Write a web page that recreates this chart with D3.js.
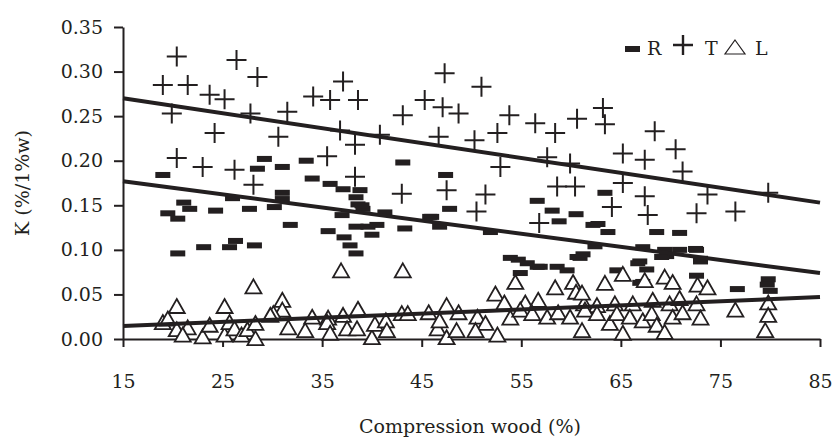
<!DOCTYPE html>
<html>
<head>
<meta charset="utf-8">
<script src="https://cdn.jsdelivr.net/npm/d3@7"></script>
<style>
  body { margin: 0; background: #fff; }
  text { font-family: "DejaVu Serif", serif; fill: #231f20; }
</style>
</head>
<body>
<div id="chart"></div>
<script>
// Values: [compression wood %, K]
var rData = [
  [19.0,0.184],[21.1,0.153],[21.7,0.146],[19.5,0.141],[20.5,0.135],[24.3,0.144],[26.0,0.158],
  [27.7,0.146],[28.5,0.191],[29.2,0.202],[31.0,0.193],[31.0,0.164],[31.0,0.157],[30.2,0.148],
  [33.4,0.200],[34.0,0.180],[35.8,0.174],[37.1,0.168],[38.8,0.167],[38.4,0.159],[38.6,0.151],
  [39.1,0.146],[37.0,0.139],[31.8,0.128],[35.6,0.121],[37.2,0.114],[38.4,0.126],[39.6,0.126],
  [37.8,0.105],[38.4,0.096],[26.3,0.110],[25.7,0.103],[23.1,0.103],[28.2,0.105],[20.5,0.096],
  [43.1,0.198],[47.4,0.184],[47.8,0.146],[39.0,0.150],[41.3,0.142],[45.8,0.137],[40.5,0.128],
  [43.3,0.124],[46.8,0.126],[40.0,0.117],[54.7,0.089],[56.6,0.081],[58.6,0.081],[60.9,0.091],
  [56.6,0.155],[58.1,0.144],[58.8,0.132],[60.5,0.140],[62.2,0.128],[51.9,0.120],[46.0,0.137],
  [54.9,0.074],[60.6,0.092],[61.2,0.095],[64.6,0.077],[67.2,0.103],[66.9,0.087],[69.6,0.093],
  [70.9,0.100],[72.6,0.100],[73.0,0.087],[72.6,0.071],[67.2,0.064],[76.7,0.056],[79.8,0.067],
  [79.7,0.061],[80.0,0.054],[68.6,0.120],[70.9,0.119],[63.4,0.164],[62.7,0.129],[63.7,0.120],
  [62.4,0.104],[69.4,0.100],[72.5,0.101],[69.1,0.092],[73.0,0.090],[66.7,0.085],[67.6,0.078],
  [53.9,0.091],[55.6,0.085],[56.9,0.081],[59.6,0.077],[66.9,0.063]
];

var tData = [
  [20.4,0.317],[19.0,0.285],[21.5,0.285],[26.4,0.313],[28.5,0.294],[19.9,0.253],[23.7,0.274],
  [25.2,0.269],[27.8,0.253],[24.2,0.231],[20.4,0.203],[23.0,0.193],[26.2,0.190],[28.1,0.173],
  [30.6,0.227],[31.5,0.255],[34.1,0.272],[35.8,0.268],[37.1,0.289],[38.6,0.268],[36.8,0.234],
  [38.3,0.218],[35.5,0.205],[38.3,0.182],[40.8,0.229],[43.1,0.251],[43.0,0.163],[47.3,0.298],
  [51.0,0.283],[45.3,0.268],[47.1,0.260],[48.7,0.253],[53.8,0.251],[56.4,0.242],[58.4,0.231],
  [60.6,0.247],[63.2,0.259],[63.4,0.241],[68.4,0.233],[46.7,0.227],[50.3,0.223],[52.6,0.231],
  [57.6,0.204],[59.9,0.197],[65.2,0.208],[67.4,0.201],[70.5,0.213],[71.2,0.188],[52.9,0.193],
  [73.7,0.162],[79.8,0.164],[76.5,0.143],[47.5,0.167],[51.4,0.162],[58.6,0.171],[60.4,0.171],
  [65.2,0.175],[67.4,0.160],[64.1,0.148],[72.6,0.141],[50.5,0.143],[67.7,0.139],[56.8,0.130]
];

var lData = [
  [20.4,0.037],[25.2,0.037],[28.1,0.059],[36.9,0.077],[43.1,0.077],[31.0,0.044],[31.0,0.033],
  [30.1,0.029],[38.6,0.034],[37.1,0.027],[34.0,0.025],[35.6,0.024],[43.0,0.029],[43.6,0.029],
  [45.7,0.030],[47.5,0.038],[48.7,0.030],[19.0,0.019],[19.5,0.023],[20.4,0.011],[21.5,0.013],
  [21.0,0.005],[23.0,0.003],[23.7,0.016],[25.2,0.005],[25.7,0.019],[26.2,0.012],[26.9,0.005],
  [27.5,0.011],[28.3,0.018],[28.3,0.001],[29.8,0.027],[31.6,0.013],[33.3,0.010],[35.5,0.019],
  [35.8,0.007],[37.5,0.012],[38.5,0.012],[40.0,0.002],[40.3,0.017],[41.4,0.021],[41.5,0.010],
  [46.6,0.012],[47.5,0.002],[48.5,0.010],[46.8,0.021],
  [54.4,0.064],[58.4,0.058],[60.2,0.064],[63.4,0.063],[65.2,0.073],[67.4,0.066],[69.4,0.070],
  [70.2,0.064],[72.7,0.061],[73.7,0.058],[52.4,0.051],[53.3,0.041],[55.4,0.041],[56.7,0.044],
  [60.5,0.053],[61.3,0.040],[62.6,0.038],[64.4,0.040],[66.2,0.040],[68.2,0.044],[69.9,0.040],
  [70.9,0.046],[72.6,0.040],[76.5,0.033],[79.8,0.041],[79.8,0.027],[79.5,0.010],[50.6,0.025],
  [51.4,0.018],[50.4,0.010],[52.6,0.005],[53.9,0.024],[54.9,0.033],[56.1,0.029],[57.6,0.025],
  [58.7,0.030],[59.9,0.025],[61.1,0.010],[61.4,0.033],[62.6,0.029],[63.9,0.018],[64.6,0.029],
  [65.2,0.007],[65.9,0.025],[67.2,0.021],[68.1,0.029],[68.6,0.016],[69.4,0.008],[70.2,0.025],
  [71.2,0.030],[73.0,0.024],[61.1,0.052]
];

// Fitted lines as drawn in the picture (end points)
var trendT = [[15,0.270],[85,0.153]];
var trendR = [[15,0.177],[85,0.074]];
var trendL = [[15,0.0146],[85,0.047]];

var xTicks = [15,25,35,45,55,65,75,85];
var yTicks = [0,0.05,0.10,0.15,0.20,0.25,0.30,0.35];
var legendKeys = ["R","T","L"];

var svgWidth = 833;
var svgHeight = 439;
var margin = { top: 27, right: 13, bottom: 100, left: 123 };
var width = svgWidth - margin.left - margin.right;
var height = svgHeight - margin.top - margin.bottom;
var ink = "#231f20";
var fontSize = 19;

var svg = d3.select("#chart")
  .append("svg")
  .attr("width", svgWidth)
  .attr("height", svgHeight);

var chartGroup = svg.append("g")
  .attr("transform", `translate(${margin.left}, ${margin.top})`);

var xScale = d3.scaleLinear().domain([15, 85]).range([0, width]);
var yScale = d3.scaleLinear().domain([0, 0.35]).range([height, 0]);

// axes
var xAxis = chartGroup.append("g")
  .attr("transform", `translate(0, ${height})`)
  .call(d3.axisBottom(xScale).tickValues(xTicks).tickSize(8).tickSizeOuter(0).tickPadding(28));

var yAxis = chartGroup.append("g")
  .call(d3.axisLeft(yScale).tickValues(yTicks).tickFormat(d3.format(".2f"))
    .tickSize(9).tickSizeOuter(0).tickPadding(11));

[xAxis, yAxis].forEach(function (ax) {
  ax.selectAll("path, line").attr("stroke", ink).attr("stroke-width", 2);
  ax.selectAll("text").attr("font-size", fontSize).attr("fill", ink)
    .style("font-family", "DejaVu Serif, serif");
});

// markers
var triPath = "M0,-7L8,7H-8Z";

chartGroup.append("g").selectAll("rect")
  .data(rData)
  .enter()
  .append("rect")
  .attr("x", d => xScale(d[0]) - 7.5)
  .attr("y", d => yScale(d[1]) - 3)
  .attr("width", 15)
  .attr("height", 6)
  .attr("fill", ink);

chartGroup.append("g").selectAll("path")
  .data(tData)
  .enter()
  .append("path")
  .attr("transform", d => `translate(${xScale(d[0])}, ${yScale(d[1])})`)
  .attr("d", "M-10,0H10M0,-10V10")
  .attr("stroke", ink)
  .attr("stroke-width", 2)
  .attr("fill", "none");

chartGroup.append("g").selectAll("path")
  .data(lData)
  .enter()
  .append("path")
  .attr("transform", d => `translate(${xScale(d[0])}, ${yScale(d[1])})`)
  .attr("d", triPath)
  .attr("stroke", ink)
  .attr("stroke-width", 1.8)
  .attr("fill", "#fff");

// trend lines
var line = d3.line().x(d => xScale(d[0])).y(d => yScale(d[1]));
[trendT, trendR, trendL].forEach(function (t) {
  chartGroup.append("path")
    .datum(t)
    .attr("d", line)
    .attr("fill", "none")
    .attr("stroke", ink)
    .attr("stroke-width", 4);
});

// legend
var legend = svg.append("g").attr("transform", "translate(625, 0)");
legend.append("rect").attr("x", 0).attr("y", 46).attr("width", 15).attr("height", 6).attr("fill", ink);
legend.append("path").attr("d", "M48,45H68M58,35V55").attr("stroke", ink).attr("stroke-width", 2.4);
legend.append("path").attr("d", "M110,40L120,54H100Z").attr("stroke", ink).attr("stroke-width", 1.2).attr("fill", "#fff");
legend.selectAll("text")
  .data(legendKeys)
  .enter()
  .append("text")
  .attr("x", (d, i) => [22, 80, 130][i])
  .attr("y", 55)
  .attr("font-size", fontSize)
  .text(d => d);

// axis titles
svg.append("text")
  .attr("x", 470)
  .attr("y", 433)
  .attr("text-anchor", "middle")
  .attr("font-size", fontSize)
  .text("Compression wood (%)");

svg.append("text")
  .attr("transform", "translate(29, 183) rotate(-90)")
  .attr("text-anchor", "middle")
  .attr("font-size", fontSize)
  .text("K (%/1%w)");
</script>
</body>
</html>
